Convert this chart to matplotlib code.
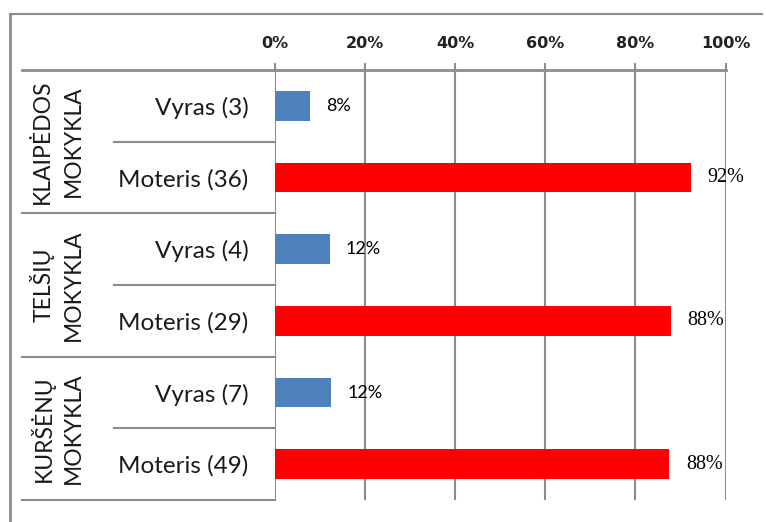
import matplotlib
matplotlib.use("Agg")
import matplotlib.pyplot as plt
from matplotlib.lines import Line2D
from matplotlib.transforms import blended_transform_factory

# ---- data ----
groups = ["KLAIPĖDOS MOKYKLA", "TELŠIŲ MOKYKLA", "KURŠĖNŲ MOKYKLA"]
categories = ["Vyras (3)", "Moteris (36)", "Vyras (4)", "Moteris (29)", "Vyras (7)", "Moteris (49)"]
values = [7.7, 92.3, 12.1, 87.9, 12.5, 87.5]
value_labels = ["8%", "92%", "12%", "88%", "12%", "88%"]
xticks = [0, 20, 40, 60, 80, 100]
xtick_labels = ["0%", "20%", "40%", "60%", "80%", "100%"]

BLUE = "#4F81BD"
RED = "#FF0000"
GRAY = "#8C8C8C"

W, H = 766, 522
def fx(px): return px / W
def fy(py): return 1 - py / H

fig = plt.figure(figsize=(W / 100, H / 100), dpi=100)
fig.patch.set_facecolor("white")

ax = fig.add_axes([fx(275), fy(500), fx(725.5) - fx(275), fy(70) - fy(500)])
colors = [BLUE if i % 2 == 0 else RED for i in range(len(values))]
ypos = list(range(len(values)))
ax.barh(ypos, values, height=0.41, color=colors, zorder=3)
ax.set_xlim(0, 100)
ax.set_ylim(5.5, -0.5)

for s in ax.spines.values():
    s.set_visible(False)

ax.set_xticks(xticks)
ax.set_xticklabels(xtick_labels, fontfamily="DejaVu Sans", fontweight="bold", fontsize=11.5)
ax.xaxis.tick_top()
ax.tick_params(axis="x", top=True, bottom=False, labeltop=True, labelbottom=False,
               length=5, width=1.5, color=GRAY, pad=9, labelcolor="#222222")
ax.grid(axis="x", color=GRAY, lw=1.5, zorder=1)

ax.set_yticks(ypos)
ax.set_yticklabels(categories, fontfamily="Lato", fontsize=17.5, color="#1a1a1a")
ax.tick_params(axis="y", length=0, pad=19)

# value labels
for i, (v, lbl) in enumerate(zip(values, value_labels)):
    if i % 2 == 0:
        ax.annotate(lbl, (v, i), xytext=(11.5, 0), textcoords="offset points",
                    va="center", ha="left", fontfamily="Lato", fontsize=13)
    else:
        ax.annotate(lbl, (v, i), xytext=(12, 0), textcoords="offset points",
                    va="center", ha="left", fontfamily="Liberation Serif", fontsize=14.5)

# separators / table lines
tr = blended_transform_factory(fig.transFigure, ax.transData)
ax.add_line(Line2D([fx(22), fx(725.5)], [-0.5, -0.5], transform=tr, color=GRAY, lw=2, clip_on=False, zorder=4))
for k in range(len(values)):
    yb = k + 0.5
    x0 = fx(114) if k % 2 == 0 else fx(22)
    ax.add_line(Line2D([x0, fx(275)], [yb, yb], transform=tr, color=GRAY, lw=1.5, clip_on=False))

# group labels
for g, name in enumerate(groups):
    w1, w2 = name.split(" ")
    yc = 2 * g + 0.5
    ax.text(fx(42), yc, w1, transform=tr, rotation=90, ha="center", va="center",
            fontfamily="Lato", fontsize=16.5, color="#1a1a1a")
    ax.text(fx(73), yc, w2, transform=tr, rotation=90, ha="center", va="center",
            fontfamily="Lato", fontsize=16.5, color="#1a1a1a")

# outer border
fig.add_artist(Line2D([fx(9.5), fx(9.5)], [fy(13.5), fy(522)], color=GRAY, lw=2))
fig.add_artist(Line2D([fx(9.5), fx(762)], [fy(13.5), fy(13.5)], color=GRAY, lw=1.5))

fig.savefig("out.png", dpi=100, facecolor="white")
